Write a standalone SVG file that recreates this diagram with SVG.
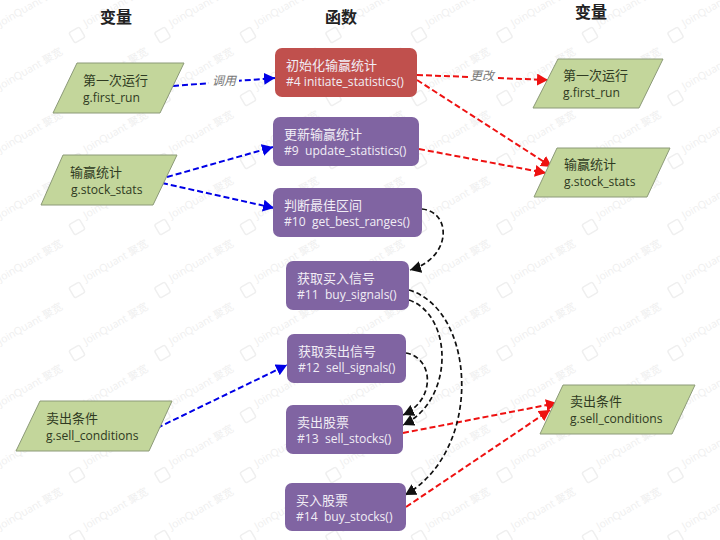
<svg xmlns="http://www.w3.org/2000/svg" xmlns:xlink="http://www.w3.org/1999/xlink" width="720" height="540" viewBox="0 0 720 540">
<style>
text{font-family:"Open Sans","Noto Sans CJK SC",sans-serif}
.title{font-family:"Noto Sans CJK SC",serif;font-size:16px;font-weight:700;fill:#222;text-anchor:middle}
.var{fill:#c3d69b;stroke:#8c9a78;stroke-width:1}
.vt{font-size:13px;fill:#2f3a22}
.fn{fill:#8064a2}
.fr{fill:#c0504d}
.ft{font-size:13px;fill:#f1edf5}
.l{font-size:12.1px;white-space:pre}
.lab{font-size:12px;font-style:italic;fill:#777;text-anchor:middle}
.c{fill:none;stroke-linecap:butt}
.b{stroke:#0000e6;stroke-width:2;stroke-dasharray:6 3}
.r{stroke:#ee1111;stroke-width:2;stroke-dasharray:6 3}
.k{stroke:#111;stroke-width:1.7;stroke-dasharray:5 3}
.wt{font-size:10.5px;fill:#efefef}
.wi{fill:none;stroke:#efefef;stroke-width:1.5}
</style>
<defs>
<marker id="ab" markerUnits="userSpaceOnUse" markerWidth="12" markerHeight="12" refX="11" refY="6" orient="auto"><path d="M0 0L11 6L0 12Z" fill="#0000e6"/></marker>
<marker id="ar" markerUnits="userSpaceOnUse" markerWidth="12" markerHeight="12" refX="11" refY="6" orient="auto"><path d="M0 0L11 6L0 12Z" fill="#ee1111"/></marker>
<marker id="ak" markerUnits="userSpaceOnUse" markerWidth="12" markerHeight="12" refX="11" refY="6" orient="auto"><path d="M0 0L11 6L0 12Z" fill="#111"/></marker>
<g id="wm"><rect class="wi" x="-6" y="-6" width="12" height="12" rx="2" transform="rotate(-30)"/><text class="wt" transform="translate(9 -8) rotate(-30)">JoinQuant 聚宽</text></g>
<g id="wr">
<use href="#wm" x="-8.5"/><use href="#wm" x="77"/><use href="#wm" x="162.5"/><use href="#wm" x="248"/><use href="#wm" x="333.5"/><use href="#wm" x="419"/><use href="#wm" x="504.5"/><use href="#wm" x="590"/><use href="#wm" x="675.5"/>
</g>
</defs>
<rect width="720" height="540" fill="#fff"/>
<g id="watermark">
<use href="#wr" y="35"/><use href="#wr" y="98"/><use href="#wr" y="161"/><use href="#wr" y="227"/><use href="#wr" y="290"/><use href="#wr" y="353"/><use href="#wr" y="415"/><use href="#wr" y="475"/><use href="#wr" y="538"/>
</g>
<g id="titles">
<text class="title" x="116" y="23">变量</text>
<text class="title" x="341" y="23">函数</text>
<text class="title" x="591" y="18">变量</text>
</g>
<g id="connectors">
<path class="c b" marker-end="url(#ab)" d="M173 86L275 78"/>
<path class="c b" marker-end="url(#ab)" d="M167 177L273 147"/>
<path class="c b" marker-end="url(#ab)" d="M162 183L274 208"/>
<path class="c b" marker-end="url(#ab)" d="M157 428L287 365"/>
<path class="c r" marker-end="url(#ar)" d="M417 75L548 80"/>
<path class="c r" marker-end="url(#ar)" d="M417 80L552 167"/>
<path class="c r" marker-end="url(#ar)" d="M419 149L546 173"/>
<path class="c r" marker-end="url(#ar)" d="M403 433L557 403"/>
<path class="c r" marker-end="url(#ar)" d="M406 507L550 410"/>
<path class="c k" marker-end="url(#ak)" d="M422 209C452 212 452 258 410 270"/>
<path class="c k" marker-end="url(#ak)" d="M409 300C453 315 455 400 403 425"/>
<path class="c k" marker-end="url(#ak)" d="M409 290C476 310 484 450 405 495"/>
<path class="c k" marker-end="url(#ak)" d="M406 353C434 358 436 400 403 415"/>
<rect x="209" y="72" width="30" height="16" fill="#fff"/>
<text class="lab" x="224" y="85">调用</text>
<rect x="468" y="68" width="28" height="16" fill="#fff"/>
<text class="lab" x="482" y="80">更改</text>
</g>
<g id="v-first-run-l"><polygon class="var" points="77,63 184,63 160,113 53,113"/><text class="vt" x="83" y="85">第一次运行</text><text class="vt l" x="83" y="102">g.first_run</text></g>
<g id="v-stock-stats-l"><polygon class="var" points="63,155 177,155 153,205 41,205"/><text class="vt" x="70" y="177">输赢统计</text><text class="vt l" x="71" y="194">g.stock_stats</text></g>
<g id="v-sell-cond-l"><polygon class="var" points="40,401 172,401 149,451 16,451"/><text class="vt" x="46" y="423">卖出条件</text><text class="vt l" x="46" y="440">g.sell_conditions</text></g>
<g id="v-first-run-r"><polygon class="var" points="558,59 663,59 639,108 533,108"/><text class="vt" x="563" y="80">第一次运行</text><text class="vt l" x="563" y="97">g.first_run</text></g>
<g id="v-stock-stats-r"><polygon class="var" points="557,148 670,148 647,197 534,197"/><text class="vt" x="564" y="169">输赢统计</text><text class="vt l" x="564" y="186">g.stock_stats</text></g>
<g id="v-sell-cond-r"><polygon class="var" points="563,385 695,385 672,434 540,434"/><text class="vt" x="570" y="406">卖出条件</text><text class="vt l" x="570" y="423">g.sell_conditions</text></g>
<g id="f4"><rect class="fr" x="275" y="48" width="142" height="49" rx="7"/><text class="ft" x="286" y="70">初始化输赢统计</text><text class="ft l" x="286" y="86">#4 initiate_statistics()</text></g>
<g id="f9"><rect class="fn" x="273" y="117" width="146" height="49" rx="7"/><text class="ft" x="284" y="139">更新输赢统计</text><text class="ft l" x="284" y="155">#9  update_statistics()</text></g>
<g id="f10"><rect class="fn" x="273" y="188" width="149" height="49" rx="7"/><text class="ft" x="284" y="210">判断最佳区间</text><text class="ft l" x="284" y="226">#10  get_best_ranges()</text></g>
<g id="f11"><rect class="fn" x="286" y="261" width="123" height="49" rx="7"/><text class="ft" x="297" y="283">获取买入信号</text><text class="ft l" x="297" y="299">#11  buy_signals()</text></g>
<g id="f12"><rect class="fn" x="287" y="334" width="119" height="49" rx="7"/><text class="ft" x="298" y="356">获取卖出信号</text><text class="ft l" x="298" y="372">#12  sell_signals()</text></g>
<g id="f13"><rect class="fn" x="286" y="405" width="117" height="49" rx="7"/><text class="ft" x="297" y="427">卖出股票</text><text class="ft l" x="297" y="443">#13  sell_stocks()</text></g>
<g id="f14"><rect class="fn" x="285" y="483" width="121" height="48" rx="7"/><text class="ft" x="296" y="505">买入股票</text><text class="ft l" x="296" y="521">#14  buy_stocks()</text></g>
</svg>
